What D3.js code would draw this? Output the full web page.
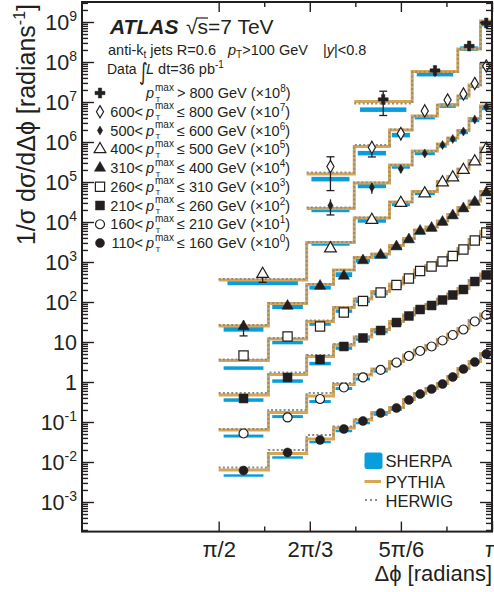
<!DOCTYPE html>
<html>
<head>
<meta charset="utf-8">
<script src="https://cdn.jsdelivr.net/npm/d3@7"></script>
<style>
  body { margin: 0; background: #fff; }
  svg { display: block; font-family: "Liberation Sans", Arial, Helvetica, sans-serif; }
</style>
</head>
<body>
<svg id="chart" width="494" height="592"></svg>
<script>
// bin edges in units of pi
const binsA = [0.5, 0.591, 0.661, 0.710, 0.748, 0.780, 0.8125, 0.838, 0.858, 0.879, 0.9, 0.919, 0.9375, 0.958, 0.979, 1.0];
const binsB = [0.5, 0.661, 0.748, 0.8125, 0.854, 0.9, 0.919, 0.9375, 0.958, 0.979, 1.0];
const binsC = [0.661, 0.748, 0.8125, 0.854, 0.9, 0.919, 0.9375, 0.958, 0.979, 1.0];
const binsD = [0.661, 0.748, 0.8125, 0.854, 0.9, 0.9375, 0.958, 0.979, 1.0];
const binsE = [0.748, 0.854, 0.9375, 0.979, 1.0];

// 110 < pTmax <= 160 GeV
const data110 = [6.13e-3, 1.73e-2, 3.55e-2, 6.68e-2, 0.106, 0.168, 0.224, 0.355, 0.501, 0.668, 0.891, 1.334, 2.113, 3.162, 5.012];
const err110 = [6e-4, 1e-3, 1e-3, 2e-3, 3e-3, 5e-3, 6e-3, 9e-3, 0.012, 0.016, 0.02, 0.03, 0.045, 0.065, 0.1];
const pythia110 = [6.31e-3, 1.63e-2, 3.76e-2, 7.08e-2, 0.112, 0.173, 0.230, 0.365, 0.516, 0.688, 0.917, 1.372, 2.175, 3.255, 5.158];
const herwig110 = [7.29e-3, 2.00e-2, 4.73e-2, 7.72e-2, 0.119, 0.173, 0.230, 0.365, 0.516, 0.688, 0.917, 1.372, 2.175, 3.255, 5.158];
const sherpa110 = [4.60e-3, 1.30e-2, 3.16e-2, 5.96e-2, 9.44e-2, 0.154, 0.205, 0.326, 0.460, 0.613, 0.818, 1.223, 1.995, 2.985, 4.732];

// 160 - 210
const data160 = [5.16e-3, 1.30e-2, 3.76e-2, 7.29e-2, 0.130, 0.200, 0.307, 0.447, 0.596, 0.772, 1.090, 1.496, 2.054, 3.255, 4.732];
const err160 = [1.0e-3, 1.0e-3, 1.1e-3, 2.2e-3, 4e-3, 6e-3, 9e-3, 0.013, 0.018, 0.023, 0.033, 0.045, 0.06, 0.1, 0.14];
const pythia160 = [6.31e-3, 1.73e-2, 4.47e-2, 8.66e-2, 0.150, 0.211, 0.326, 0.473, 0.631, 0.818, 1.155, 1.585, 2.175, 3.447, 5.012];
const herwig160 = [6.68e-3, 2.00e-2, 5.31e-2, 9.44e-2, 0.158, 0.211, 0.326, 0.473, 0.631, 0.818, 1.155, 1.585, 2.175, 3.447, 5.012];
const sherpa160 = [4.47e-3, 1.37e-2, 3.26e-2, 6.88e-2, 0.119, 0.188, 0.290, 0.422, 0.562, 0.729, 1.029, 1.413, 1.939, 3.073, 4.467];

// 210 - 260
const data210 = [3.87e-3, 1.30e-2, 3.65e-2, 7.72e-2, 0.126, 0.194, 0.307, 0.447, 0.649, 0.818, 1.122, 1.496, 2.054, 3.255, 4.732];
const err210 = [8e-4, 1e-3, 1.1e-3, 2.3e-3, 3.8e-3, 6e-3, 9e-3, 0.013, 0.02, 0.025, 0.034, 0.045, 0.06, 0.1, 0.14];
const pythia210 = [4.73e-3, 1.54e-2, 4.34e-2, 8.41e-2, 0.133, 0.205, 0.326, 0.473, 0.688, 0.866, 1.189, 1.585, 2.175, 3.447, 5.012];
const herwig210 = [5.31e-3, 1.73e-2, 4.73e-2, 8.91e-2, 0.137, 0.205, 0.326, 0.473, 0.688, 0.866, 1.189, 1.585, 2.175, 3.447, 5.012];
const sherpa210 = [3.55e-3, 1.06e-2, 2.90e-2, 7.08e-2, 0.119, 0.183, 0.290, 0.422, 0.613, 0.772, 1.059, 1.413, 1.939, 3.073, 4.467];

// 260 - 310
const data260 = [4.60e-3, 1.37e-2, 2.44e-2, 5.46e-2, 0.106, 0.173, 0.266, 0.387, 0.596, 0.772, 1.029, 1.413, 2.054, 3.447, 5.464];
const err260 = [1.15e-3, 1.1e-3, 7e-4, 1.6e-3, 3.2e-3, 5e-3, 8e-3, 0.012, 0.018, 0.023, 0.031, 0.042, 0.06, 0.1, 0.16];
const pythia260 = [3.45e-3, 1.19e-2, 3.26e-2, 7.29e-2, 0.119, 0.183, 0.282, 0.410, 0.631, 0.818, 1.090, 1.496, 2.175, 3.652, 5.788];
const herwig260 = [3.65e-3, 1.26e-2, 3.45e-2, 7.50e-2, 0.122, 0.183, 0.282, 0.410, 0.631, 0.818, 1.090, 1.496, 2.175, 3.652, 5.788];
const sherpa260 = [2.24e-3, 9.72e-3, 2.82e-2, 5.96e-2, 0.106, 0.163, 0.251, 0.365, 0.562, 0.729, 0.972, 1.334, 1.939, 3.255, 5.158];

// 310 - 400
const data310 = [2.44e-3, 7.94e-3, 2.51e-2, 4.47e-2, 0.109, 0.150, 0.244, 0.365, 0.596, 0.708, 1.000, 1.454, 2.175, 3.162, 5.464];
const err310 = [1.02e-3, 8e-4, 1.5e-3, 2.2e-3, 4.4e-3, 6e-3, 7.3e-3, 0.011, 0.018, 0.021, 0.03, 0.044, 0.065, 0.095, 0.16];
const pythia310 = [2.51e-3, 9.17e-3, 2.74e-2, 6.31e-2, 0.130, 0.158, 0.259, 0.387, 0.631, 0.750, 1.059, 1.540, 2.304, 3.350, 5.788];
const herwig310 = [2.66e-3, 9.44e-3, 2.82e-2, 6.31e-2, 0.133, 0.158, 0.259, 0.387, 0.631, 0.750, 1.059, 1.540, 2.304, 3.350, 5.788];
const sherpa310 = [2.11e-3, 7.72e-3, 2.37e-2, 4.87e-2, 0.112, 0.141, 0.230, 0.345, 0.562, 0.668, 0.944, 1.372, 2.054, 2.985, 5.158];

// 400 - 500
const data400 = [5.01e-3, 2.18e-2, 0.112, 0.299, 0.516, 0.972, 1.296, 1.995, 3.255, 6.683];
const err400 = [1.9e-3, 2.2e-3, 9e-3, 0.018, 0.026, 0.049, 0.052, 0.08, 0.098, 0.2];
const pythia400 = [3.55e-3, 3.07e-2, 0.126, 0.316, 0.579, 1.029, 1.372, 2.113, 3.447, 7.079];
const herwig400 = [3.76e-3, 3.16e-2, 0.130, 0.316, 0.579, 1.029, 1.372, 2.113, 3.447, 7.079];
const sherpa400 = [2.99e-3, 2.90e-2, 0.109, 0.282, 0.531, 0.944, 1.259, 1.939, 3.162, 6.310];

// 500 - 600
const data500 = [2.59e-2, 7.29e-2, 0.211, 0.516, 0.841, 1.189, 1.830, 3.652, 7.499];
const err500 = [0.0109, 0.0219, 0.0422, 0.0516, 0.0589, 0.0713, 0.0915, 0.183, 0.300];
const pythia500 = [2.18e-2, 9.44e-2, 0.266, 0.596, 0.891, 1.259, 1.939, 3.868, 7.943];
const herwig500 = [2.30e-2, 9.72e-2, 0.266, 0.596, 0.891, 1.259, 1.939, 3.868, 7.943];
const sherpa500 = [2.00e-2, 7.94e-2, 0.244, 0.531, 0.818, 1.155, 1.778, 3.548, 7.079];

// 600 - 800
const data600 = [2.44e-2, 7.29e-2, 0.163, 0.596, 1.122, 1.585, 2.901, 7.943];
const err600 = [0.0183, 0.0306, 0.0538, 0.0715, 0.0898, 0.111, 0.174, 0.397];
const pythia600 = [1.58e-2, 7.72e-2, 0.200, 0.447, 0.841, 1.413, 2.661, 8.913];
const herwig600 = [1.73e-2, 8.41e-2, 0.205, 0.447, 0.841, 1.413, 2.661, 8.913];
const sherpa600 = [1.19e-2, 5.31e-2, 0.150, 0.422, 0.818, 1.334, 2.585, 7.943];

// > 800
const data800 = [0.116, 0.613, 2.512, 9.441];
const err800 = [0.070, 0.184, 0.377, 0.755];
const pythia800 = [0.103, 0.579, 2.113, 10.59];
const herwig800 = [0.0917, 0.562, 2.113, 10.59];
const sherpa800 = [0.0649, 0.501, 2.175, 8.913];

// sherpa band half-width (relative)
const sherpaBand = [0.13, 0.13, 0.12, 0.12, 0.14, 0.1, 0.1, 0.085, 0.07];
const rangeLow = ["", "600", "500", "400", "310", "260", "210", "160", "110"];
const rangeHigh = ["800", "800", "600", "500", "400", "310", "260", "210", "160"];
const scalePow = [8, 7, 6, 5, 4, 3, 2, 1, 0];

const xTicks = [1 / 2, 2 / 3, 5 / 6, 1];
const xTickLabels = ["π/2", "2π/3", "5π/6", "π"];
const xMinor = [7 / 12, 3 / 4, 11 / 12];
const yPowers = [-3, -2, -1, 0, 1, 2, 3, 4, 5, 6, 7, 8, 9];

const series = [
  { bins: binsE, data: data800, err: err800, py: pythia800, hw: herwig800, sh: sherpa800, sym: d3.symbolCross, size: 55, open: false },
  { bins: binsD, data: data600, err: err600, py: pythia600, hw: herwig600, sh: sherpa600, sym: d3.symbolDiamond, size: 44, open: true },
  { bins: binsC, data: data500, err: err500, py: pythia500, hw: herwig500, sh: sherpa500, sym: d3.symbolDiamond, size: 24, open: false },
  { bins: binsB, data: data400, err: err400, py: pythia400, hw: herwig400, sh: sherpa400, sym: d3.symbolTriangle, size: 60, open: true },
  { bins: binsA, data: data310, err: err310, py: pythia310, hw: herwig310, sh: sherpa310, sym: d3.symbolTriangle, size: 55, open: false },
  { bins: binsA, data: data260, err: err260, py: pythia260, hw: herwig260, sh: sherpa260, sym: d3.symbolSquare, size: 85, open: true },
  { bins: binsA, data: data210, err: err210, py: pythia210, hw: herwig210, sh: sherpa210, sym: d3.symbolSquare, size: 80, open: false },
  { bins: binsA, data: data160, err: err160, py: pythia160, hw: herwig160, sh: sherpa160, sym: d3.symbolCircle, size: 64, open: true },
  { bins: binsA, data: data110, err: err110, py: pythia110, hw: herwig110, sh: sherpa110, sym: d3.symbolCircle, size: 64, open: false }
];
series.forEach((s, i) => {
  s.k = scalePow[i]; s.band = sherpaBand[i];
  s.lo = rangeLow[i]; s.hi = rangeHigh[i];
});

const gold = "#d6a655", blue = "#0a9ddb", grey = "#8c8c8c", ink = "#231f20";
const pL = 82, pR = 492, pT = 2, pB = 531.6;

const svg = d3.select("#chart");
const x = d3.scaleLinear().domain([0.25, 1]).range([pL, pR]);
const y = d3.scaleLog().domain([Math.pow(10, -3.74), Math.pow(10, 9.5)]).range([pB, pT]);

svg.append("defs").append("clipPath").attr("id", "plot")
  .append("rect").attr("x", pL).attr("y", pT).attr("width", pR - pL).attr("height", pB - pT);

const plot = svg.append("g").attr("clip-path", "url(#plot)");

const stepLine = d3.line().x(d => x(d[0])).y(d => y(d[1])).curve(d3.curveStepAfter);
function stepPoints(s, vals) {
  const f = Math.pow(10, s.k);
  const pts = vals.map((v, i) => [s.bins[i], v * f]);
  pts.push([s.bins[s.bins.length - 1], vals[vals.length - 1] * f]);
  return pts;
}

// SHERPA bands
series.forEach(s => {
  const f = Math.pow(10, s.k);
  plot.append("g").selectAll("rect")
    .data(s.sh.map((v, i) => ({ lo: s.bins[i], hi: s.bins[i + 1], v: v * f })))
    .join("rect")
    .attr("x", d => x(d.lo) + 0.1 * (x(d.hi) - x(d.lo)))
    .attr("width", d => 0.8 * (x(d.hi) - x(d.lo)))
    .attr("y", d => y(d.v * (1 + s.band)))
    .attr("height", d => y(d.v * (1 - s.band)) - y(d.v * (1 + s.band)))
    .attr("fill", blue);
});

// PYTHIA steps
series.forEach(s => {
  plot.append("path").attr("d", stepLine(stepPoints(s, s.py)))
    .attr("fill", "none").attr("stroke", gold).attr("stroke-width", 3);
});
// HERWIG steps
series.forEach(s => {
  plot.append("path").attr("d", stepLine(stepPoints(s, s.hw)))
    .attr("fill", "none").attr("stroke", grey).attr("stroke-width", 2)
    .attr("stroke-dasharray", "2,2.2");
});

// data: error bars and markers
series.forEach(s => {
  const f = Math.pow(10, s.k);
  const pts = s.data.map((v, i) => ({ c: (s.bins[i] + s.bins[i + 1]) / 2, v: v * f, e: s.err[i] * f }));
  const g = svg.append("g");
  const half = 5.5;
  pts.forEach(d => {
    const cx = x(d.c), cy = y(d.v), y1 = y(d.v + d.e), y2 = y(Math.max(d.v - d.e, 1e-12));
    g.append("line").attr("x1", cx).attr("x2", cx).attr("y1", y1).attr("y2", y2)
      .attr("stroke", ink).attr("stroke-width", 1.3);
    if (cy - y1 > half + 2) g.append("line").attr("x1", cx - 4).attr("x2", cx + 4).attr("y1", y1).attr("y2", y1).attr("stroke", ink).attr("stroke-width", 1.3);
    if (y2 - cy > half + 2) g.append("line").attr("x1", cx - 4).attr("x2", cx + 4).attr("y1", y2).attr("y2", y2).attr("stroke", ink).attr("stroke-width", 1.3);
  });
  g.selectAll("path.m").data(pts).join("path").attr("class", "m")
    .attr("d", d3.symbol().type(s.sym).size(s.size))
    .attr("transform", d => `translate(${x(d.c)},${y(d.v)})`)
    .attr("fill", s.open ? "#fff" : ink)
    .attr("stroke", ink).attr("stroke-width", s.open ? 1.2 : 0.5);
});

// axes (inward ticks on all four sides)
const majorY = yPowers.map(p => Math.pow(10, p));
const minorY = [];
for (let p = -4; p <= 9; p++) for (let m = 2; m <= 9; m++) {
  const v = m * Math.pow(10, p);
  if (v > y.domain()[0] && v < y.domain()[1]) minorY.push(v);
}
function axisStyle(g) {
  g.select(".domain").remove();
  g.selectAll("line").attr("stroke", ink).attr("stroke-width", 1.4);
}
svg.append("g").attr("transform", `translate(${pL},0)`).call(d3.axisLeft(y).tickValues(majorY).tickSize(-12).tickFormat("")).call(axisStyle);
svg.append("g").attr("transform", `translate(${pL},0)`).call(d3.axisLeft(y).tickValues(minorY).tickSize(-6).tickFormat("")).call(axisStyle);
svg.append("g").attr("transform", `translate(${pR},0)`).call(d3.axisRight(y).tickValues(majorY).tickSize(-12).tickFormat("")).call(axisStyle);
svg.append("g").attr("transform", `translate(${pR},0)`).call(d3.axisRight(y).tickValues(minorY).tickSize(-6).tickFormat("")).call(axisStyle);

const xAxis = svg.append("g").attr("transform", `translate(0,${pB})`)
  .call(d3.axisBottom(x).tickValues(xTicks).tickSize(-10).tickPadding(10).tickFormat((d, i) => xTickLabels[i]))
  .call(axisStyle);
xAxis.attr("font-family", null).attr("font-size", null);
xAxis.selectAll("text").attr("font-size", 22).attr("fill", ink);
svg.append("g").attr("transform", `translate(0,${pB})`).call(d3.axisBottom(x).tickValues(xMinor).tickSize(-5).tickFormat("")).call(axisStyle);
svg.append("g").attr("transform", `translate(0,${pT})`).call(d3.axisTop(x).tickValues(xTicks).tickSize(-10).tickFormat("")).call(axisStyle);
svg.append("g").attr("transform", `translate(0,${pT})`).call(d3.axisTop(x).tickValues(xMinor).tickSize(-5).tickFormat("")).call(axisStyle);

svg.append("rect").attr("x", pL).attr("y", pT).attr("width", pR - pL).attr("height", pB - pT)
  .attr("fill", "none").attr("stroke", ink).attr("stroke-width", 2);

// y tick labels
const yLab = svg.append("g").attr("fill", ink).attr("font-size", 21.5).attr("text-anchor", "end");
yPowers.forEach(p => {
  const t = yLab.append("text").attr("x", 77).attr("y", y(Math.pow(10, p)) + 8);
  if (p === 0) t.text("1");
  else if (p === 1) t.text("10");
  else {
    t.append("tspan").text("10");
    t.append("tspan").attr("dy", -9).attr("font-size", 14).text(p);
  }
});

// axis titles
const yt = svg.append("text").attr("transform", "translate(35,4) rotate(-90)")
  .attr("text-anchor", "end").attr("font-size", 25).attr("fill", ink);
yt.append("tspan").text("1/σ dσ/dΔϕ [radians");
yt.append("tspan").attr("dy", -10).attr("font-size", 16).text("-1");
yt.append("tspan").attr("dy", 10).text("]");

svg.append("text").attr("x", pR).attr("y", 581).attr("text-anchor", "end")
  .attr("font-size", 22).attr("fill", ink).text("Δϕ [radians]");

// header
const hd = svg.append("g").attr("fill", ink);
hd.append("text").attr("x", 110).attr("y", 34).attr("font-size", 21).attr("font-weight", "bold")
  .attr("font-style", "italic").text("ATLAS");
const rs = hd.append("text").attr("x", 186).attr("y", 34).attr("font-size", 21).text("√s=7 TeV");
const rn = rs.node();
const w0 = rn.getSubStringLength(0, 1), w1 = rn.getSubStringLength(1, 1);
hd.append("line").attr("x1", 186 + w0 - 1).attr("x2", 186 + w0 + w1).attr("y1", 18).attr("y2", 18)
  .attr("stroke", ink).attr("stroke-width", 1.2);

const l2 = hd.append("text").attr("x", 108).attr("y", 55).attr("font-size", 14.5);
l2.append("tspan").text("anti-k");
l2.append("tspan").attr("dy", 3).attr("font-size", 10).text("t");
l2.append("tspan").attr("dy", -3).text(" jets R=0.6");
const l2b = hd.append("text").attr("x", 228).attr("y", 55).attr("font-size", 14.5);
l2b.append("tspan").attr("font-style", "italic").text("p");
l2b.append("tspan").attr("dy", 3).attr("font-size", 10).text("T");
l2b.append("tspan").attr("dy", -3).text(">100 GeV");
const l2c = hd.append("text").attr("x", 323).attr("y", 55).attr("font-size", 14.5);
l2c.append("tspan").text("|");
l2c.append("tspan").attr("font-style", "italic").text("y");
l2c.append("tspan").text("|<0.8");

hd.append("text").attr("x", 107).attr("y", 74).attr("font-size", 14).text("Data");
hd.append("text").attr("transform", "translate(139,79.5) scale(1,1.4)").attr("font-size", 17)
  .attr("font-family", "'DejaVu Sans'").text("∫");
const l3 = hd.append("text").attr("x", 146).attr("y", 74).attr("font-size", 14.5);
l3.append("tspan").attr("font-style", "italic").text("L");
l3.append("tspan").text(" dt=36 pb");
l3.append("tspan").attr("dy", -6).attr("font-size", 10).text("-1");

// pT legend
series.forEach((s, i) => {
  const ry = 93 + i * 18.75;
  const g = hd.append("g");
  g.append("path").attr("d", d3.symbol().type(s.sym).size(s.size)).attr("transform", `translate(100,${ry})`)
    .attr("fill", s.open ? "#fff" : ink).attr("stroke", ink).attr("stroke-width", s.open ? 1.2 : 0.5);
  if (s.lo) g.append("text").attr("x", 143).attr("y", ry + 5).attr("text-anchor", "end").attr("font-size", 14.5).text(s.lo + "<");
  g.append("text").attr("x", 146).attr("y", ry + 5).attr("font-size", 14.5).attr("font-style", "italic").text("p");
  g.append("text").attr("x", 155).attr("y", ry - 2.5).attr("font-size", 10).text("max");
  g.append("text").attr("x", 155.5).attr("y", ry + 8.5).attr("font-size", 8).text("T");
  const t = g.append("text").attr("x", 177).attr("y", ry + 5).attr("font-size", 14.5);
  t.append("tspan").text((i === 0 ? ">" : "≤") + " " + s.hi + " GeV (×10");
  t.append("tspan").attr("dy", -6).attr("font-size", 10).text(s.k);
  t.append("tspan").attr("dy", 6).text(")");
});

// MC legend
const mc = svg.append("g").attr("fill", ink).attr("font-size", 16.5);
mc.append("rect").attr("x", 364.5).attr("y", 452.5).attr("width", 18).attr("height", 16.5).attr("rx", 2.5).attr("fill", blue);
mc.append("text").attr("x", 385.5).attr("y", 467).text("SHERPA");
mc.append("line").attr("x1", 364.5).attr("x2", 381).attr("y1", 481.5).attr("y2", 481.5).attr("stroke", gold).attr("stroke-width", 3);
mc.append("text").attr("x", 385.5).attr("y", 488).text("PYTHIA");
mc.append("line").attr("x1", 365).attr("x2", 379).attr("y1", 500).attr("y2", 500).attr("stroke", grey).attr("stroke-width", 2).attr("stroke-dasharray", "2,3");
mc.append("text").attr("x", 385.5).attr("y", 506.5).text("HERWIG");
</script>
</body>
</html>
